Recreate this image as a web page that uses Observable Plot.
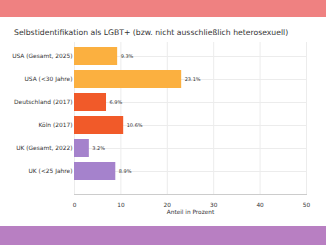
<!DOCTYPE html>
<html>
<head>
<meta charset="utf-8">
<script src="https://cdn.jsdelivr.net/npm/d3@7"></script>
<script src="https://cdn.jsdelivr.net/npm/@observablehq/plot@0.6"></script>
<style>
  html, body { margin: 0; padding: 0; background: #fff; }
  #wrap { position: relative; width: 326px; height: 245px; overflow: hidden; font-family: "DejaVu Sans", sans-serif; }
  #topband { position: absolute; left: 0; top: 0; width: 326px; height: 17px; background: #ef8181; }
  #bottomband { position: absolute; left: 0; top: 226px; width: 326px; height: 19px; background: #b87fc2; }
  #title { position: absolute; left: 14px; top: 28px; font-size: 7.7px; color: #333; white-space: nowrap; }
  #chart { position: absolute; left: 0; top: 40px; }
</style>
</head>
<body>
<div id="wrap">
  <div id="topband"></div>
  <div id="title">Selbstidentifikation als LGBT+ (bzw. nicht ausschließlich heterosexuell)</div>
  <div id="chart"></div>
  <div id="bottomband"></div>
</div>
<script>
// Survey groups and their share (percent) identifying as LGBT+
const groups = ["USA (Gesamt, 2025)", "USA (<30 Jahre)", "Deutschland (2017)", "Köln (2017)", "UK (Gesamt, 2022)", "UK (<25 Jahre)"];
const shares = [9.3, 23.1, 6.9, 10.6, 3.2, 8.9];
const regions = ["USA", "USA", "DE", "DE", "UK", "UK"];
const xTicks = [0, 10, 20, 30, 40, 50];
const xLabel = "Anteil in Prozent";

const regionColors = { USA: "#fbb040", DE: "#f15a29", UK: "#a582cc" };

const rows = groups.map((g, i) => ({ group: g, value: shares[i], region: regions[i] }));

const chart = Plot.plot({
  width: 326,
  height: 185,
  marginLeft: 74,
  marginRight: 20,
  marginTop: 2,
  marginBottom: 31,
  style: { fontFamily: "DejaVu Sans, sans-serif", fontSize: "5.8px", color: "#333", background: "transparent" },
  x: { domain: [0, 50], ticks: xTicks },
  y: { domain: groups, range: [2.08, 145.92], padding: 0.2 },
  marks: [
    Plot.gridX(xTicks, { stroke: "#ececec", strokeOpacity: 1 }),
    Plot.gridY({ stroke: "#ececec", strokeOpacity: 1 }),
    Plot.frame({ anchor: "bottom", stroke: "#cccccc" }),
    Plot.barX(rows, { y: "group", x: "value", fill: d => regionColors[d.region] }),
    Plot.text(rows, {
      y: "group", x: "value", text: d => d.value.toFixed(1) + "%",
      textAnchor: "start", dx: 3, fontSize: 5, fill: "#333"
    }),
    Plot.axisY({ tickSize: 0, tickPadding: 2, label: null, fontSize: 5.9, fill: "#333" }),
    Plot.axisX({ ticks: xTicks, tickSize: 0, tickPadding: 8, label: null, fontSize: 5.8, fill: "#333" }),
    Plot.text([xLabel], { frameAnchor: "bottom", dy: 19.5, fontSize: 5.8, fill: "#333" })
  ]
});
document.getElementById("chart").appendChild(chart);
</script>
</body>
</html>
